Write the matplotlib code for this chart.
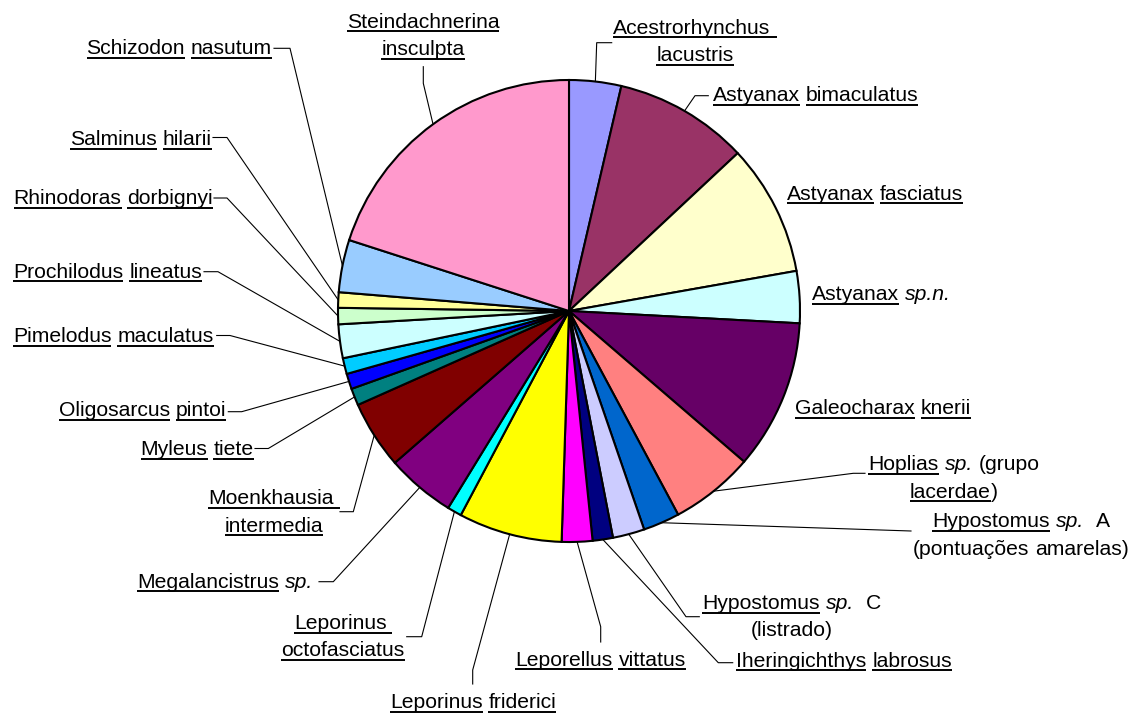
import re
import numpy as np
import matplotlib
matplotlib.use("Agg")
import matplotlib.pyplot as plt

# ---------------- data ----------------
species = [
    "Acestrorhynchus lacustris", "Astyanax bimaculatus", "Astyanax fasciatus",
    "Astyanax sp.n.", "Galeocharax knerii", "Hoplias sp. (grupo lacerdae)",
    "Hypostomus sp. A (pontuações amarelas)", "Hypostomus sp. C (listrado)",
    "Iheringichthys labrosus", "Leporellus vittatus", "Leporinus friderici",
    "Leporinus octofasciatus", "Megalancistrus sp.", "Moenkhausia intermedia",
    "Myleus tiete", "Oligosarcus pintoi", "Pimelodus maculatus",
    "Prochilodus lineatus", "Rhinodoras dorbignyi", "Salminus hilarii",
    "Schizodon nasutum", "Steindachnerina insculpta",
]
values = [3.64, 9.39, 9.19, 3.63, 10.46, 5.86, 2.56, 2.22, 1.42, 2.14, 7.25,
          1.00, 4.83, 4.75, 1.19, 1.08, 1.11, 2.36, 1.14, 1.08, 3.67, 20.03]
colors = ["#9999FF", "#993366", "#FFFFCC", "#CCFFFF", "#660066", "#FF8080",
          "#0066CC", "#CCCCFF", "#000080", "#FF00FF", "#FFFF00", "#00FFFF",
          "#800080", "#800000", "#008080", "#0000FF", "#00CCFF", "#CCFFFF",
          "#CCFFCC", "#FFFF99", "#99CCFF", "#FF99CC"]
# display labels: _x_ underlined, *x* italic
label_markup = [
    "_Acestrorhynchus _\n_lacustris_",
    "_Astyanax_ _bimaculatus_",
    "_Astyanax_ _fasciatus_",
    "_Astyanax_ *sp.n.*",
    "_Galeocharax_ _knerii_",
    "_Hoplias_ *sp.* (grupo\n_lacerdae_)",
    "_Hypostomus_ *sp.*  A\n(pontuações amarelas)",
    "_Hypostomus_ *sp.*  C\n(listrado)",
    "_Iheringichthys_ _labrosus_",
    "_Leporellus_ _vittatus_",
    "_Leporinus_ _friderici_",
    "_Leporinus _\n_octofasciatus_",
    "_Megalancistrus_ *sp.*",
    "_Moenkhausia _\n_intermedia_",
    "_Myleus_ _tiete_",
    "_Oligosarcus_ _pintoi_",
    "_Pimelodus_ _maculatus_",
    "_Prochilodus_ _lineatus_",
    "_Rhinodoras_ _dorbignyi_",
    "_Salminus_ _hilarii_",
    "_Schizodon_ _nasutum_",
    "_Steindachnerina_\n_insculpta_",
]

# ---------------- layout (pixel coords, y downward) ----------------
# (align, x, first baseline, leader points from label toward pie)
layout = [
    ("center", 695, 33.5, [(611.7, 42.7), (596.7, 42.7)]),
    ("left", 712.7, 101, [(708.3, 95.7), (695, 95.7)]),
    ("left", 786.7, 199.5, []),
    ("left", 811.7, 300, []),
    ("left", 795, 414, []),
    ("center", 954, 470, [(865, 473.3), (853.3, 473.3)]),
    ("center", 1021, 527.3, [(911, 531)]),
    ("center", 791.5, 609, [(699.3, 616.7), (686, 616.7)]),
    ("left", 736, 666.7, [(732.7, 662.7), (718.3, 662.7)]),
    ("center", 600.5, 665.7, [(600.7, 642), (600.7, 626.7)]),
    ("center", 473, 708.5, [(472.7, 684), (472.7, 670)]),
    ("center", 343, 629, [(406.7, 636.7), (421.7, 636.7)]),
    ("right", 313, 587.5, [(319, 581.7), (333.3, 581.7)]),
    ("center", 274, 504, [(340, 511.7), (353.3, 511.7)]),
    ("right", 253.5, 455, [(255, 448.5), (268.3, 448.5)]),
    ("right", 226, 416.5, [(228.3, 411.7), (241.7, 411.7)]),
    ("right", 213.5, 342, [(216.7, 335.5), (230, 335.5)]),
    ("right", 202, 277.5, [(204, 271.7), (218, 271.7)]),
    ("right", 213, 204, [(214, 198), (227, 198)]),
    ("right", 212, 145, [(213, 137.5), (227, 137.5)]),
    ("right", 272, 54.5, [(274, 48.3), (290, 48.3)]),
    ("center", 423, 27.5, [(423.3, 66.7), (423.3, 83.3)]),
]

W, H = 1136, 713
FONT = "Liberation Sans"
FS = 15.2
LINE_H = 27.5

fig = plt.figure(figsize=(W / 100, H / 100), dpi=100)
ax = fig.add_axes([0, 0, 1, 1])
wedges, _ = ax.pie(values, colors=colors, startangle=-90, counterclock=True,
                   center=(569, 311), radius=231,
                   wedgeprops=dict(edgecolor="black", linewidth=1.5))
ax.set_xlim(0, W)
ax.set_ylim(H, 0)
ax.set_aspect("equal")
ax.axis("off")

renderer = fig.canvas.get_renderer()


def text_width(s, italic=False):
    t = ax.text(0, 0, s, fontfamily=FONT, fontsize=FS,
                fontstyle="italic" if italic else "normal")
    w = t.get_window_extent(renderer).width
    t.remove()
    return w


SPACE_W = text_width("x x") - text_width("xx")


def parse_line(line):
    pieces = []
    for tok in re.findall(r"_[^_]*_|\*[^*]*\*|[^_*]+", line):
        und = tok.startswith("_")
        ita = tok.startswith("*")
        body = tok[1:-1] if (und or ita) else tok
        for part in re.findall(r"\S+|\s+", body):
            if part.isspace():
                pieces.append((part, ita, und, len(part) * SPACE_W, True))
            else:
                pieces.append((part, ita, und, text_width(part, ita), False))
    return pieces


def draw_label(markup, align, x, y0):
    for k, line in enumerate(markup.split("\n")):
        y = y0 + k * LINE_H
        pieces = parse_line(line)
        total = sum(p[3] for p in pieces)
        if align == "left":
            cx = x
        elif align == "right":
            cx = x - total
        else:
            cx = x - total / 2
        for txt, ita, und, w, is_space in pieces:
            if not is_space:
                ax.text(cx, y, txt, fontfamily=FONT, fontsize=FS,
                        fontstyle="italic" if ita else "normal",
                        ha="left", va="baseline", color="black", zorder=5)
            if und:
                ax.plot([cx, cx + w], [y + 3.6, y + 3.6], color="black",
                        lw=1.4, solid_capstyle="butt", zorder=5)
            cx += w


for i, w in enumerate(wedges):
    align, x, y0, pts = layout[i]
    draw_label(label_markup[i], align, x, y0)
    if pts:
        th = np.deg2rad((w.theta1 + w.theta2) / 2)
        ex = w.center[0] + w.r * np.cos(th)
        ey = w.center[1] + w.r * np.sin(th)
        xs = [p[0] for p in pts] + [ex]
        ys = [p[1] for p in pts] + [ey]
        ax.plot(xs, ys, color="black", lw=0.8, zorder=1)

fig.savefig("out.png", dpi=100)
